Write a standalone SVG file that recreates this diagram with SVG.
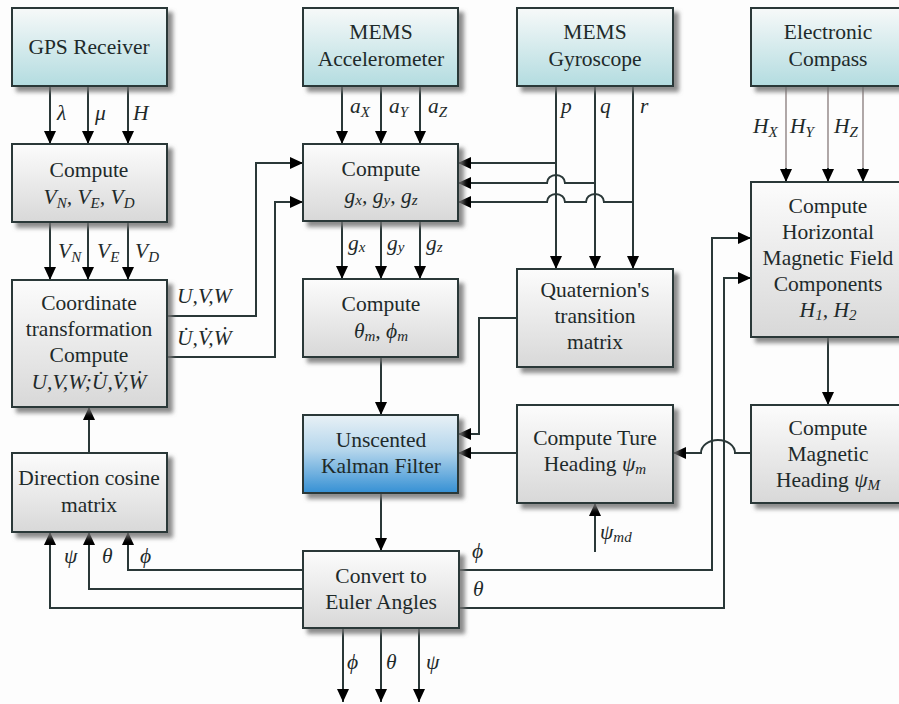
<svg xmlns="http://www.w3.org/2000/svg" width="899" height="704" viewBox="0 0 899 704" font-family="'Liberation Serif', 'DejaVu Serif', serif">
<defs>
  <linearGradient id="gTop" x1="0" y1="0" x2="0" y2="1">
    <stop offset="0" stop-color="#f7f9f9"/>
    <stop offset="1" stop-color="#b3dce0"/>
  </linearGradient>
  <linearGradient id="gGray" x1="0" y1="0" x2="0" y2="1">
    <stop offset="0" stop-color="#fcfcfc"/>
    <stop offset="1" stop-color="#d8d8d8"/>
  </linearGradient>
  <linearGradient id="gBlue" x1="0" y1="0" x2="0" y2="1">
    <stop offset="0" stop-color="#e8f1f6"/>
    <stop offset="0.45" stop-color="#b5d6ec"/>
    <stop offset="1" stop-color="#3590d4"/>
  </linearGradient>
  <filter id="sh" x="-10%" y="-10%" width="130%" height="140%">
    <feDropShadow dx="5" dy="5" stdDeviation="2" flood-color="#707070" flood-opacity="0.8"/>
  </filter>
  <marker id="ah" markerUnits="userSpaceOnUse" markerWidth="13" markerHeight="12" refX="13" refY="6" orient="auto">
    <path d="M0,0 L13,6 L0,12 z" fill="#000"/>
  </marker>
  <style>
    .box { stroke: #2a3838; stroke-width: 2; filter: url(#sh); }
    .top { fill: url(#gTop); }
    .gray { fill: url(#gGray); }
    .blue { fill: url(#gBlue); }
    text { font-family: "Liberation Serif", "DejaVu Serif", serif; font-size: 21.5px; fill: #1e2a2a; }
    .t { text-anchor: middle; }
    .m { font-style: italic; }
    .s { font-size: 15px; }
    .c { fill: none; stroke: #2a3838; stroke-width: 2; }
    .a { marker-end: url(#ah); }
    .thin { fill: none; stroke: #7d7070; stroke-width: 1.2; }
  </style>
</defs>
<rect width="899" height="704" fill="#fdfdfd"/>

<g id="connectors">
  <path class="c a" d="M50,86 V144"/>
  <path class="c a" d="M88,86 V144"/>
  <path class="c a" d="M128,86 V144"/>
  <path class="c a" d="M50,222 V280"/>
  <path class="c a" d="M88,222 V280"/>
  <path class="c a" d="M128,222 V280"/>
  <path class="c a" d="M342,86 V144"/>
  <path class="c a" d="M381,86 V144"/>
  <path class="c a" d="M420,86 V144"/>
  <path class="c a" d="M342,221 V279"/>
  <path class="c a" d="M381,221 V279"/>
  <path class="c a" d="M420,221 V279"/>
  <path class="c a" d="M167,316 H256 V163 H303"/>
  <path class="c a" d="M167,357 H275 V202 H303"/>
  <path class="c a" d="M89,453 V407"/>
  <path class="c a" d="M556,86 V269"/>
  <path class="c a" d="M595,86 V269"/>
  <path class="c a" d="M633,86 V269"/>
  <path class="c a" d="M556,163 H458"/>
  <path class="c a" d="M595,183 H565 A9,8 0 0 0 547,183 H458"/>
  <path class="c a" d="M633,202 H604 A9,8 0 0 0 586,202 H565 A9,8 0 0 0 547,202 H458"/>
  <path class="thin" d="M786,86 V170 M828,86 V170 M863,86 V170"/>
  <path class="c a" d="M786,168 V182"/>
  <path class="c a" d="M828,168 V182"/>
  <path class="c a" d="M863,168 V182"/>
  <path class="c a" d="M828,337 V405"/>
  <path class="c a" d="M751,453 H735 A17,13 0 0 0 701,453 H673"/>
  <path class="c a" d="M517,318 H479 V434 H458"/>
  <path class="c a" d="M517,453 H458"/>
  <path class="c a" d="M381,357 V415"/>
  <path class="c a" d="M381,493 V551"/>
  <path class="c a" d="M303,570 H128 V532"/>
  <path class="c a" d="M303,589 H89 V532"/>
  <path class="c a" d="M303,608 H50 V532"/>
  <path class="c a" d="M459,570 H712 V238 H751"/>
  <path class="c a" d="M459,608 H724 V278 H751"/>
  <path class="c a" d="M595,552 V503"/>
  <path class="c a" d="M343,628 V702"/>
  <path class="c a" d="M381,628 V702"/>
  <path class="c a" d="M419,628 V702"/>
</g>

<g id="labels">
  <text class="m" x="57" y="120">λ</text>
  <text class="m" x="95" y="120">μ</text>
  <text class="m" x="133" y="120">H</text>
  <text class="m" x="58" y="258">V<tspan class="s" dy="4">N</tspan></text>
  <text class="m" x="97" y="258">V<tspan class="s" dy="4">E</tspan></text>
  <text class="m" x="135" y="258">V<tspan class="s" dy="4">D</tspan></text>
  <text class="m" x="177" y="303">U,V,W</text>
  <text class="m" x="177" y="345">U̇,V̇,Ẇ</text>
  <text class="m" x="350" y="113">a<tspan class="s" dy="4">X</tspan></text>
  <text class="m" x="389" y="113">a<tspan class="s" dy="4">Y</tspan></text>
  <text class="m" x="428" y="113">a<tspan class="s" dy="4">Z</tspan></text>
  <text class="m" x="561" y="113">p</text>
  <text class="m" x="600" y="113">q</text>
  <text class="m" x="640" y="113">r</text>
  <text class="m" x="753" y="133">H<tspan class="s" dy="4">X</tspan></text>
  <text class="m" x="790" y="133">H<tspan class="s" dy="4">Y</tspan></text>
  <text class="m" x="834" y="133">H<tspan class="s" dy="4">Z</tspan></text>
  <text class="m" x="348" y="250">g<tspan class="s" dy="2">x</tspan></text>
  <text class="m" x="387" y="250">g<tspan class="s" dy="2">y</tspan></text>
  <text class="m" x="426" y="250">g<tspan class="s" dy="2">z</tspan></text>
  <text class="m" x="64" y="563">ψ</text>
  <text class="m" x="102" y="563">θ</text>
  <text class="m" x="140" y="563">ϕ</text>
  <text class="m" x="472" y="558">ϕ</text>
  <text class="m" x="473" y="596">θ</text>
  <text class="m" x="600" y="539">ψ<tspan class="s" dy="3">md</tspan></text>
  <text class="m" x="347" y="669">ϕ</text>
  <text class="m" x="386" y="669">θ</text>
  <text class="m" x="426" y="669">ψ</text>
</g>

<g id="gps">
  <rect class="box top" x="12" y="8" width="155" height="78"/>
  <text class="t" x="89" y="54">GPS Receiver</text>
</g>
<g id="accel">
  <rect class="box top" x="303" y="8" width="155" height="78"/>
  <text class="t" x="381" y="39">MEMS</text>
  <text class="t" x="381" y="66">Accelerometer</text>
</g>
<g id="gyro">
  <rect class="box top" x="517" y="8" width="156" height="78"/>
  <text class="t" x="595" y="39">MEMS</text>
  <text class="t" x="595" y="66">Gyroscope</text>
</g>
<g id="compass">
  <rect class="box top" x="751" y="8" width="155" height="78"/>
  <text class="t" x="828" y="39">Electronic</text>
  <text class="t" x="828" y="66">Compass</text>
</g>
<g id="computeV">
  <rect class="box gray" x="12" y="144" width="155" height="78"/>
  <text class="t" x="89" y="177">Compute</text>
  <text class="t m" x="89" y="204">V<tspan class="s" dy="4">N</tspan><tspan dy="-4">, V</tspan><tspan class="s" dy="4">E</tspan><tspan dy="-4">, V</tspan><tspan class="s" dy="4">D</tspan></text>
</g>
<g id="computeG">
  <rect class="box gray" x="303" y="144" width="155" height="77"/>
  <text class="t" x="381" y="176">Compute</text>
  <text class="t m" x="381" y="203">g<tspan class="s" dy="2">x</tspan><tspan dy="-2">, g</tspan><tspan class="s" dy="2">y</tspan><tspan dy="-2">, g</tspan><tspan class="s" dy="2">z</tspan></text>
</g>
<g id="horizontal">
  <rect class="box gray" x="751" y="182" width="155" height="155"/>
  <text class="t" x="828" y="213">Compute</text>
  <text class="t" x="828" y="239">Horizontal</text>
  <text class="t" x="828" y="265">Magnetic Field</text>
  <text class="t" x="828" y="291">Components</text>
  <text class="t m" x="828" y="317">H<tspan class="s" dy="3">1</tspan><tspan dy="-3">, H</tspan><tspan class="s" dy="3">2</tspan></text>
</g>
<g id="coordinate">
  <rect class="box gray" x="12" y="280" width="155" height="127"/>
  <text class="t" x="89" y="310">Coordinate</text>
  <text class="t" x="89" y="336">transformation</text>
  <text class="t" x="89" y="362">Compute</text>
  <text class="t m" x="89" y="389">U,V,W;U̇,V̇,Ẇ</text>
</g>
<g id="computeTheta">
  <rect class="box gray" x="303" y="279" width="155" height="78"/>
  <text class="t" x="381" y="311">Compute</text>
  <text class="t m" x="381" y="338">θ<tspan class="s" dy="3">m</tspan><tspan dy="-3">, ϕ</tspan><tspan class="s" dy="3">m</tspan></text>
</g>
<g id="quaternion">
  <rect class="box gray" x="517" y="269" width="156" height="98"/>
  <text class="t" x="595" y="297">Quaternion's</text>
  <text class="t" x="595" y="323">transition</text>
  <text class="t" x="595" y="349">matrix</text>
</g>
<g id="ukf">
  <rect class="box blue" x="303" y="415" width="155" height="78"/>
  <text class="t" x="381" y="447">Unscented</text>
  <text class="t" x="381" y="473">Kalman Filter</text>
</g>
<g id="tureHeading">
  <rect class="box gray" x="517" y="405" width="156" height="98"/>
  <text class="t" x="595" y="445">Compute Ture</text>
  <text class="t" x="595" y="471">Heading <tspan class="m">ψ</tspan><tspan class="m s" dy="3">m</tspan></text>
</g>
<g id="magHeading">
  <rect class="box gray" x="751" y="405" width="155" height="98"/>
  <text class="t" x="828" y="435">Compute</text>
  <text class="t" x="828" y="461">Magnetic</text>
  <text class="t" x="828" y="487">Heading <tspan class="m">ψ</tspan><tspan class="m s" dy="3">M</tspan></text>
</g>
<g id="dircos">
  <rect class="box gray" x="12" y="453" width="155" height="79"/>
  <text class="t" x="89" y="485">Direction cosine</text>
  <text class="t" x="89" y="512">matrix</text>
</g>
<g id="convert">
  <rect class="box gray" x="303" y="551" width="156" height="77"/>
  <text class="t" x="381" y="583">Convert to</text>
  <text class="t" x="381" y="609">Euler Angles</text>
</g>
</svg>
